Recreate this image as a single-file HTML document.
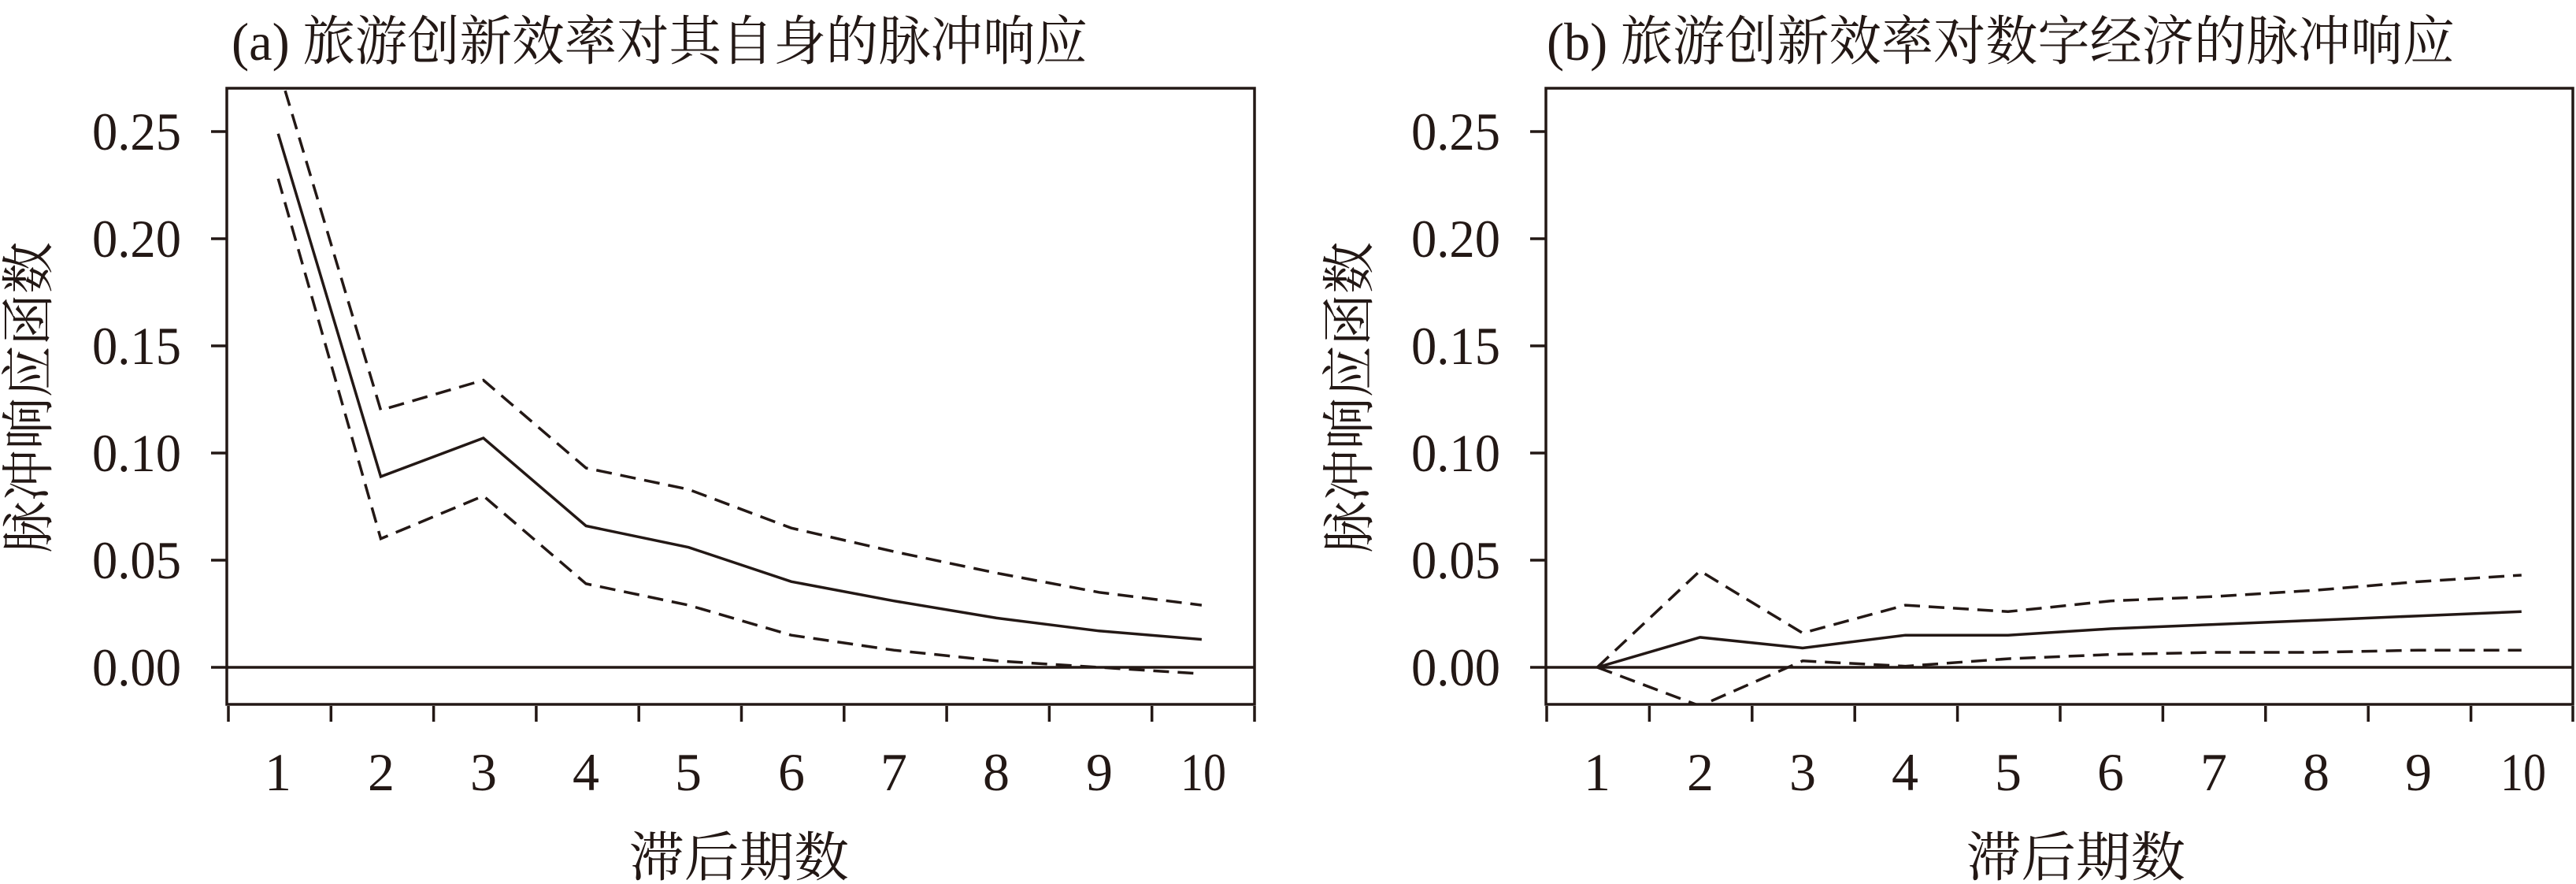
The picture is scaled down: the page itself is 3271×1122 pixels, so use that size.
<!DOCTYPE html>
<html><head><meta charset="utf-8"><style>
html,body{margin:0;padding:0;background:#fff;}
svg{display:block;}
.n{font-family:"Liberation Serif",serif;font-size:68px;fill:#231815;}
.c{font-family:"Liberation Serif","Noto Serif CJK SC",serif;font-size:68px;fill:#231815;}
</style></head><body>
<svg width="3271" height="1122" viewBox="0 0 3271 1122" xmlns="http://www.w3.org/2000/svg">
<defs>
<clipPath id="ca"><rect x="288" y="112" width="1305" height="782"/></clipPath>
<clipPath id="cb"><rect x="1963" y="112" width="1304" height="782"/></clipPath>
</defs>
<g stroke="#231815" stroke-width="3.5" fill="none">
<!-- panel a -->
<rect x="288" y="112" width="1305" height="782"/>
<line x1="288" y1="847" x2="1593" y2="847"/>
<path d="M268 167H288M268 303H288M268 439H288M268 575H288M268 711H288M268 847H288"/>
<path d="M290 896V916M420.3 896V916M550.6 896V916M680.9 896V916M811.2 896V916M941.5 896V916M1071.8 896V916M1202.1 896V916M1332.4 896V916M1462.7 896V916M1593 896V916"/>
<g clip-path="url(#ca)">
<polyline points="353.2,169.7 483.5,604.9 613.8,556 744.1,667.5 874.4,694.7 1004.7,738.2 1135,762.7 1265.3,784.4 1395.6,800.8 1525.9,811.6"/>
<polyline stroke-dasharray="20,11" points="353.2,85.4 483.5,520.6 613.8,482.5 744.1,594 874.4,621.2 1004.7,670.2 1135,700.1 1265.3,727.3 1395.6,751.8 1525.9,768.1"/>
<polyline stroke-dasharray="20,11" points="353.2,226.8 483.5,683.8 613.8,629.4 744.1,740.9 874.4,768.1 1004.7,806.2 1135,825.2 1265.3,838.8 1395.6,847 1525.9,855.2"/>
</g>
<!-- panel b -->
<rect x="1963" y="112" width="1304" height="782"/>
<line x1="1963" y1="847" x2="3267" y2="847"/>
<path d="M1943 167H1963M1943 303H1963M1943 439H1963M1943 575H1963M1943 711H1963M1943 847H1963"/>
<path d="M1964 896V916M2094.4 896V916M2224.8 896V916M2355.2 896V916M2485.6 896V916M2616 896V916M2746.4 896V916M2876.8 896V916M3007.2 896V916M3137.6 896V916M3267 896V916"/>
<g clip-path="url(#cb)">
<polyline points="2028.2,847 2158.6,808.9 2289,822.5 2419.4,806.2 2549.8,806.2 2680.2,798 2810.6,792.6 2941,787.2 3071.4,781.7 3201.8,776.3"/>
<polyline stroke-dasharray="20,11" points="2028.2,847 2158.6,724.6 2289,803.5 2419.4,768.1 2549.8,776.3 2680.2,762.7 2810.6,757.2 2941,749.1 3071.4,738.2 3201.8,730"/>
<polyline stroke-dasharray="20,11" points="2028.2,847 2158.6,896 2289,838.8 2419.4,845.6 2549.8,836.1 2680.2,830.7 2810.6,828 2941,828 3071.4,825.2 3201.8,825.2"/>
</g>
</g>
<!-- y tick labels a -->
<g class="n" text-anchor="end">
<text x="230" y="190" textLength="113" lengthAdjust="spacingAndGlyphs">0.25</text>
<text x="230" y="326" textLength="113" lengthAdjust="spacingAndGlyphs">0.20</text>
<text x="230" y="462" textLength="113" lengthAdjust="spacingAndGlyphs">0.15</text>
<text x="230" y="598" textLength="113" lengthAdjust="spacingAndGlyphs">0.10</text>
<text x="230" y="734" textLength="113" lengthAdjust="spacingAndGlyphs">0.05</text>
<text x="230" y="870" textLength="113" lengthAdjust="spacingAndGlyphs">0.00</text>
<text x="1905" y="190" textLength="113" lengthAdjust="spacingAndGlyphs">0.25</text>
<text x="1905" y="326" textLength="113" lengthAdjust="spacingAndGlyphs">0.20</text>
<text x="1905" y="462" textLength="113" lengthAdjust="spacingAndGlyphs">0.15</text>
<text x="1905" y="598" textLength="113" lengthAdjust="spacingAndGlyphs">0.10</text>
<text x="1905" y="734" textLength="113" lengthAdjust="spacingAndGlyphs">0.05</text>
<text x="1905" y="870" textLength="113" lengthAdjust="spacingAndGlyphs">0.00</text>
</g>
<!-- x tick labels -->
<g class="n" text-anchor="middle">
<text x="353" y="1003">1</text><text x="484" y="1003">2</text><text x="614" y="1003">3</text><text x="744" y="1003">4</text><text x="874" y="1003">5</text><text x="1005" y="1003">6</text><text x="1135" y="1003">7</text><text x="1265" y="1003">8</text><text x="1396" y="1003">9</text>
<text x="1528" y="1003" textLength="58" lengthAdjust="spacingAndGlyphs">10</text>
<text x="2028" y="1003">1</text><text x="2159" y="1003">2</text><text x="2289" y="1003">3</text><text x="2419" y="1003">4</text><text x="2550" y="1003">5</text><text x="2680" y="1003">6</text><text x="2811" y="1003">7</text><text x="2941" y="1003">8</text><text x="3071" y="1003">9</text>
<text x="3204" y="1003" textLength="58" lengthAdjust="spacingAndGlyphs">10</text>
</g>
<!-- titles -->
<g class="c">
<text x="294" y="76" textLength="1087" lengthAdjust="spacingAndGlyphs">(a) 旅游创新效率对其自身的脉冲响应</text>
<text x="1964" y="76" textLength="1153" lengthAdjust="spacingAndGlyphs">(b) 旅游创新效率对数字经济的脉冲响应</text>
<text x="799" y="1112" textLength="279" lengthAdjust="spacingAndGlyphs">滞后期数</text>
<text x="2497" y="1112" textLength="278" lengthAdjust="spacingAndGlyphs">滞后期数</text>
<text transform="translate(60,702) rotate(-90)" textLength="395" lengthAdjust="spacingAndGlyphs">脉冲响应函数</text>
<text transform="translate(1737,702) rotate(-90)" textLength="395" lengthAdjust="spacingAndGlyphs">脉冲响应函数</text>
</g>
</svg>
</body></html>
